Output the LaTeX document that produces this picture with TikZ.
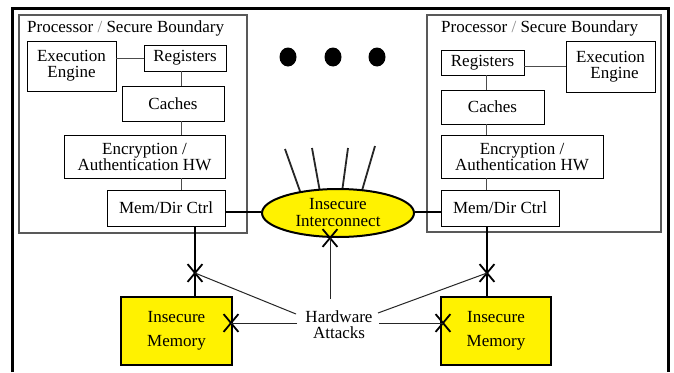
\documentclass[tikz,border=0pt]{standalone}
\usepackage{fontspec}
\setmainfont{Liberation Serif}
\newfontfamily\tnr{Liberation Serif}
\usetikzlibrary{shapes.geometric,shapes.misc}
\begin{document}
\begin{tikzpicture}[x=1pt,y=-1pt,
  every node/.style={font=\tnr\fontsize{17}{16}\selectfont, inner sep=0pt},
  ibox/.style={draw=black, line width=0.8pt, align=center},
  wire/.style={draw=black!70, line width=1pt},
  bus/.style={draw=black, line width=2.4pt},
  memb/.style={draw=black, fill=yellow, line width=2.4pt, align=center, minimum width=110pt, minimum height=68pt, font=\tnr\fontsize{17}{24}\selectfont},
  xmark/.style={cross out, draw=black, line width=1.8pt, minimum width=13pt, minimum height=16pt},
  atk/.style={draw=black!85, line width=1pt},
  spike/.style={draw=black!85, line width=1.8pt},
  dot/.style={fill=black, draw=none}
]
\useasboundingbox (0,0) rectangle (674,372);
\fill[white] (0,0) rectangle (674,372);
% outer frame
\draw[line width=3pt] (12,372) -- (12,8) -- (668,8) -- (668,372);

% ---------- left processor ----------
\node[draw=black!65, line width=1.6pt, minimum width=228pt, minimum height=218pt] (procL) at (133,124) {};
\node[anchor=west] (titL) at (27,28) {Processor {\color{black!45}/} Secure Boundary};
\node[ibox, minimum width=89pt, minimum height=50pt] (exL) at (71.5,66) {Execution\\Engine};
\node[ibox, minimum width=82pt, minimum height=26pt] (regL) at (185,58) {Registers};
\node[ibox, minimum width=102pt, minimum height=35pt] (cacL) at (173,103.5) {Caches};
\node[ibox, minimum width=161pt, minimum height=43pt] (encL) at (144.5,156.5) {Encryption /\\Authentication HW};
\node[ibox, minimum width=118pt, minimum height=36pt] (mdL) at (166,208) {Mem/Dir Ctrl};
\coordinate (cxL) at (181,0);
\draw[wire] (exL.east |- regL) -- (regL.west);
\draw[wire] (regL.south -| cxL) -- (cacL.north -| cxL);
\draw[wire] (cacL.south -| cxL) -- (encL.north -| cxL);
\draw[wire] (encL.south -| cxL) -- (mdL.north -| cxL);

% ---------- right processor ----------
\node[draw=black!65, line width=1.6pt, minimum width=234pt, minimum height=217pt] (procR) at (544,123.5) {};
\node[anchor=west] (titR) at (441,28) {Processor {\color{black!45}/} Secure Boundary};
\node[ibox, minimum width=83pt, minimum height=25pt] (regR) at (482.5,62.5) {Registers};
\node[ibox, minimum width=89pt, minimum height=51pt] (exR) at (610.5,66.5) {Execution\\\hspace*{8pt}Engine};
\node[ibox, minimum width=103pt, minimum height=34pt] (cacR) at (492.5,107) {Caches};
\node[ibox, minimum width=162pt, minimum height=43pt] (encR) at (522,156.5) {Encryption /\\Authentication HW};
\node[ibox, minimum width=118pt, minimum height=36pt] (mdR) at (500,208) {Mem/Dir Ctrl};
\coordinate (cxR) at (486,0);
\draw[wire] (regR.east |- exR) -- (exR.west);
\draw[wire] (regR.south -| cxR) -- (cacR.north -| cxR);
\draw[wire] (cacR.south -| cxR) -- (encR.north -| cxR);
\draw[wire] (encR.south -| cxR) -- (mdR.north -| cxR);

% ---------- dots ----------
\fill[dot] (288,57) ellipse [x radius=8.5, y radius=9.5];
\fill[dot] (333,57) ellipse [x radius=8.5, y radius=9.5];
\fill[dot] (377,57) ellipse [x radius=8.5, y radius=9.5];

% ---------- interconnect ----------
\coordinate (s1a) at (285,149); \coordinate (s1b) at (301,194);
\coordinate (s2a) at (312,148); \coordinate (s2b) at (320,192);
\coordinate (s3a) at (348,148); \coordinate (s3b) at (342,192);
\coordinate (s4a) at (375,146); \coordinate (s4b) at (361,194);
\draw[spike] (s1a) -- (s1b);
\draw[spike] (s2a) -- (s2b);
\draw[spike] (s3a) -- (s3b);
\draw[spike] (s4a) -- (s4b);
\node[ellipse, draw=black, fill=yellow, line width=2pt, minimum width=152pt, minimum height=48pt, align=center, font=\tnr\fontsize{17}{17}\selectfont] (ic) at (338,213) {Insecure\\Interconnect};

\coordinate (busY) at (0,212);
\draw[bus] (mdL.east |- busY) -- (ic.west |- busY);
\draw[bus] (ic.east |- busY) -- (mdR.west |- busY);

% ---------- memories ----------
\node[memb, minimum width=111pt] (memL) at (176.5,331) {Insecure\\Memory};
\node[memb] (memR) at (496,331) {Insecure\\Memory};

\coordinate (vxL) at (195,0);
\coordinate (vxR) at (487,0);
\draw[bus] (mdL.south -| vxL) -- (memL.north -| vxL);
\draw[bus] (mdR.south -| vxR) -- (memR.north -| vxR);

% ---------- attacks ----------
\node[align=center] (hw) at (339,325) {Hardware\\Attacks};
\node[xmark] (xL) at (195,273) {};
\node[xmark] (xR) at (487,273) {};
\node[xmark] (xML) at (231,323) {};
\node[xmark] (xMR) at (443,323) {};
\node[xmark] (xI) at (330,238) {};
\coordinate (hL1) at (296,314);
\coordinate (hL2) at (297,323);
\coordinate (hR1) at (378,313);
\coordinate (hR2) at (379,323);
\coordinate (hU) at (330,299);
\draw[atk] (hL1) -- (xL.center);
\draw[atk] (hL2) -- (xML.center);
\draw[atk] (hR1) -- (xR.center);
\draw[atk] (hR2) -- (xMR.center);
\draw[atk] (hU) -- (xI.center);
\end{tikzpicture}
\end{document}
